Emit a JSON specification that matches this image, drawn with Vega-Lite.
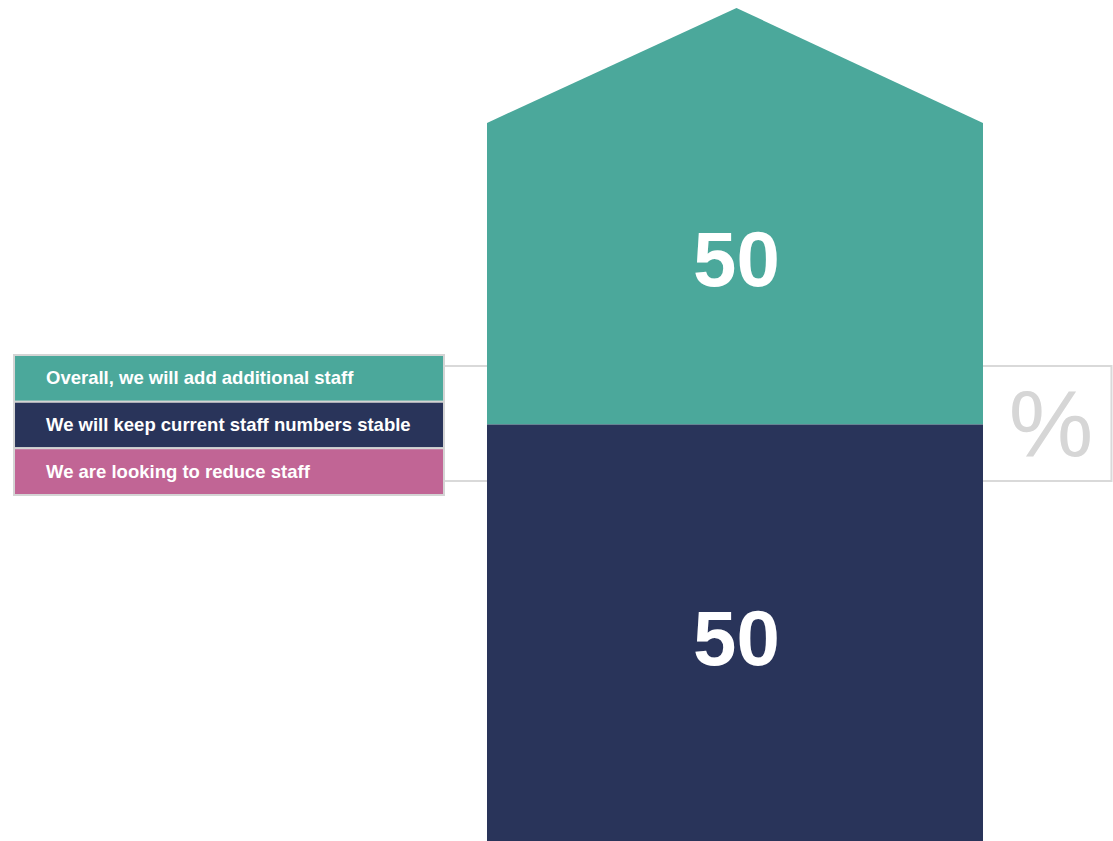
{
  "$schema": "https://vega.github.io/schema/vega-lite/v6.json",
  "width": 1113,
  "height": 841,
  "padding": 0,
  "autosize": {"type": "fit", "contains": "padding"},
  "background": "white",
  "config": {"view": {"stroke": null}, "axis": {"disable": true}, "font": "Liberation Sans"},
  "datasets": {
    "shares": [
      {"response": "Overall, we will add additional staff", "share": 50},
      {"response": "We will keep current staff numbers stable", "share": 50},
      {"response": "We are looking to reduce staff", "share": 0}
    ],
    "roof": [
      {"pos": 0, "top": 86.2},
      {"pos": 0.503, "top": 100},
      {"pos": 1, "top": 86.2}
    ]
  },
  "layer": [
    {
      "layer": [
        {
          "data": {"values": [{"unit": "%"}]},
          "mark": {"type": "rect", "fill": null, "stroke": "#d9d9d9", "strokeWidth": 2},
          "encoding": {
            "x": {"datum": -0.5, "type": "quantitative", "scale": {"domain": [-0.98185, 1.2621], "nice": false, "zero": false}},
            "x2": {"datum": 1.259},
            "y": {"datum": 57.02, "type": "quantitative", "scale": {"domain": [0, 100.96], "nice": false, "zero": false}},
            "y2": {"datum": 43.22}
          }
        },
        {
          "data": {"name": "roof"},
          "mark": {"type": "area", "color": "#4BA89B"},
          "encoding": {
            "x": {"field": "pos", "type": "quantitative", "scale": {"domain": [-0.98185, 1.2621], "nice": false, "zero": false}},
            "y": {"field": "top", "type": "quantitative", "scale": {"domain": [0, 100.96], "nice": false, "zero": false}},
            "y2": {"datum": 50}
          }
        },
        {
          "data": {"name": "shares"},
          "transform": [{"filter": "datum.response === 'We will keep current staff numbers stable'"}],
          "mark": {"type": "rect", "color": "#29345A"},
          "encoding": {
            "x": {"datum": 0, "type": "quantitative", "scale": {"domain": [-0.98185, 1.2621], "nice": false, "zero": false}},
            "x2": {"datum": 1},
            "y": {"field": "share", "type": "quantitative", "scale": {"domain": [0, 100.96], "nice": false, "zero": false}},
            "y2": {"datum": 0}
          }
        },
        {
          "data": {"name": "shares"},
          "transform": [{"filter": "datum.response === 'Overall, we will add additional staff'"}],
          "mark": {"type": "text", "color": "white", "fontSize": 78, "fontWeight": "bold", "align": "center", "baseline": "alphabetic"},
          "encoding": {
            "x": {"datum": 0.503, "type": "quantitative"},
            "y": {"datum": 66.6, "type": "quantitative"},
            "text": {"field": "share"}
          }
        },
        {
          "data": {"name": "shares"},
          "transform": [{"filter": "datum.response === 'We will keep current staff numbers stable'"}],
          "mark": {"type": "text", "color": "white", "fontSize": 78, "fontWeight": "bold", "align": "center", "baseline": "alphabetic"},
          "encoding": {
            "x": {"datum": 0.503, "type": "quantitative"},
            "y": {"datum": 21.1, "type": "quantitative"},
            "text": {"field": "share"}
          }
        },
        {
          "data": {"values": [{"unit": "%"}]},
          "mark": {"type": "text", "color": "#d6d6d6", "fontSize": 95, "align": "center", "baseline": "alphabetic"},
          "encoding": {
            "x": {"datum": 1.137, "type": "quantitative"},
            "y": {"datum": 46.2, "type": "quantitative"},
            "text": {"field": "unit"}
          }
        }
      ]
    },
    {
      "data": {"name": "shares"},
      "layer": [
        {
          "mark": {"type": "rect", "stroke": "#d4d4d4", "strokeWidth": 2},
          "encoding": {
            "x": {"datum": -0.9536, "type": "quantitative", "scale": {"domain": [-0.98185, 1.2621], "nice": false, "zero": false}},
            "x2": {"datum": -0.0867},
            "y": {"field": "response", "type": "nominal", "sort": null, "scale": {"type": "band", "range": [355, 495], "paddingInner": 0, "paddingOuter": 0}},
            "color": {"field": "response", "type": "nominal", "sort": null, "legend": null,
              "scale": {"domain": ["Overall, we will add additional staff", "We will keep current staff numbers stable", "We are looking to reduce staff"], "range": ["#4BA89B", "#29345A", "#C16595"]}}
          }
        },
        {
          "mark": {"type": "text", "color": "white", "fontSize": 18.5, "fontWeight": "bold", "align": "left", "baseline": "middle"},
          "encoding": {
            "x": {"datum": -0.8891, "type": "quantitative"},
            "y": {"field": "response", "type": "nominal", "sort": null},
            "text": {"field": "response"}
          }
        }
      ]
    }
  ],
  "resolve": {"scale": {"y": "independent"}}
}
